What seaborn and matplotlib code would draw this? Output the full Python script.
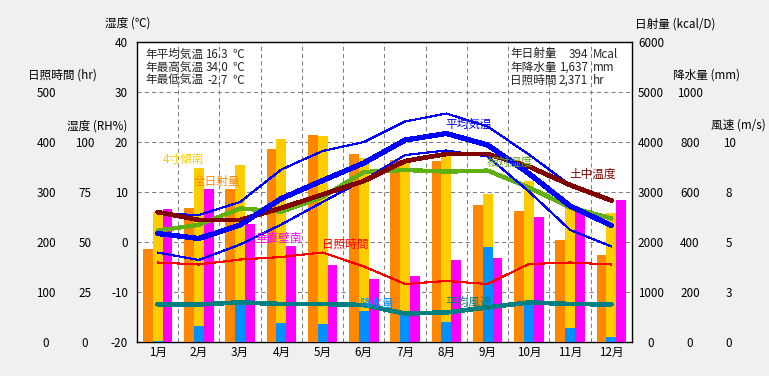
import numpy as np
import matplotlib
matplotlib.use("Agg")
import matplotlib.pyplot as plt
import seaborn as sns

# ---------------------------------------------------------------------------
# data
# ---------------------------------------------------------------------------
months = ["1月", "2月", "3月", "4月", "5月", "6月", "7月", "8月", "9月", "10月", "11月", "12月"]

rad_total = [1860, 2680, 3060, 3860, 4140, 3760, 3640, 3620, 2740, 2620, 2040, 1740]   # 全日射量 kcal/D
rad_tilt = [2600, 3480, 3540, 4060, 4120, 3680, 3580, 3740, 2960, 3220, 2680, 2580]    # 4寸傾南
rad_wall = [2660, 3060, 2360, 1920, 1540, 1260, 1320, 1640, 1680, 2500, 2600, 2840]    # 垂直壁南
rain = [4, 64, 160, 76, 72, 124, 120, 80, 380, 164, 56, 20]                            # 降水量 mm
sunshine = [159, 155, 165, 170, 179, 151, 116, 122, 116, 156, 159, 155]                # 日照時間 hr
temp_mean = [1.7, 0.7, 3.4, 8.7, 12.3, 15.8, 20.4, 21.7, 19.4, 13.7, 7.2, 3.3]
temp_max = [5.7, 5.4, 8.0, 14.5, 18.2, 20.0, 24.1, 25.7, 23.1, 17.5, 11.4, 8.1]
temp_min = [-2.1, -3.6, -0.5, 3.5, 8.0, 12.4, 17.4, 18.3, 17.1, 10.1, 2.4, -0.9]
soil_temp = [6.0, 4.4, 4.4, 6.8, 9.5, 12.2, 16.2, 17.6, 17.6, 15.1, 11.4, 8.3]
humidity = [55.7, 58.6, 66.8, 65.2, 72.5, 85.0, 86.0, 85.2, 85.7, 77.3, 67.3, 61.8]
wind = [1.88, 1.88, 1.98, 1.9, 1.9, 1.85, 1.42, 1.48, 1.73, 1.98, 1.9, 1.88]

temp_ticks = [-20, -10, 0, 10, 20, 30, 40]
sun_ticks = [0, 100, 200, 300, 400, 500]
rh_ticks = [0, 25, 50, 75, 100]
rad_ticks = [0, 1000, 2000, 3000, 4000, 5000, 6000]
rain_ticks = [0, 200, 400, 600, 800, 1000]
wind_ticks = [0, 2.5, 5, 7.5, 10]
wind_tick_labels = ["0", "3", "5", "8", "10"]

stat_names_l = ["年平均気温", "年最高気温", "年最低気温"]
stat_vals_l = ["16.3", "34.0", "-2.7"]
stat_units_l = ["℃", "℃", "℃"]
stat_names_r = ["年日射量", "年降水量", "日照時間"]
stat_vals_r = ["394", "1,637", "2,371"]
stat_units_r = ["Mcal", "mm", "hr"]

# colours
C_ORANGE = "#ff8800"
C_YELLOW = "#ffcc00"
C_MAGENTA = "#ff00ff"
C_RAIN = "#0090ff"
C_RED = "#ff0000"
C_BLUE = "#0000ff"
C_MAROON = "#800000"
C_GREEN = "#5fb010"
C_TEAL = "#008080"

sns.set_theme(style="white")
plt.rcParams["font.family"] = ["Noto Sans CJK JP", "DejaVu Sans"]
FS = 8.4

W, H = 769, 376
L, R, T, B = 137, 632, 42, 342


def px(x, y):
    return x / W, 1 - y / H


def column(ax, pos_px, side, lim, ticks, labels):
    # one extra scale drawn as a free-standing column of numbers
    frac = (pos_px - L) / (R - L)
    ax.yaxis.set_ticks_position(side)
    ax.spines[side].set_position(("axes", frac))
    for s in ax.spines.values():
        s.set_visible(False)
    ax.tick_params(axis="y", length=0, pad=0, labelsize=FS, colors="black")
    ax.set_ylim(*lim)
    ax.set_yticks(ticks)
    ax.set_yticklabels(labels, ha="center")


fig = plt.figure(figsize=(W / 100, H / 100), dpi=100, facecolor="#f0f0f0")
ax = fig.add_axes([L / W, 1 - B / H, (R - L) / W, (B - T) / H])
ax.set_facecolor("white")
x = np.arange(len(months))
ax.set_xlim(-0.5, len(months) - 0.5)
ax.tick_params(axis="both", which="both", length=0, labelsize=FS, colors="black")
ax.tick_params(axis="y", pad=6.5)
ax.tick_params(axis="x", pad=3)
ax.set_ylim(-20, 40)
ax.set_yticks(temp_ticks)
ax.set_yticklabels([str(t) for t in temp_ticks])
ax.set_xticks(x)
ax.set_xticklabels(months)
ax.set_xticks(x[:-1] + 0.5, minor=True)
ax.grid(False)
ax.grid(True, which="minor", axis="x", color="#808080", lw=0.75, ls=(0, (4, 3)))
ax.grid(True, which="major", axis="y", color="#808080", lw=0.75, ls=(0, (4, 3)))
for s in ax.spines.values():
    s.set_visible(True)
    s.set_color("black")
    s.set_linewidth(1)

# radiation bars
ax_rad = ax.twinx()
column(ax_rad, 651, "right", (0, 6000), rad_ticks, [str(t) for t in rad_ticks])
w = 0.24
ax_rad.bar(x - w, rad_total, width=w, color=C_ORANGE, linewidth=0)
ax_rad.bar(x, rad_tilt, width=w, color=C_YELLOW, linewidth=0)
ax_rad.bar(x + w, rad_wall, width=w, color=C_MAGENTA, linewidth=0)

# precipitation
ax_rain = ax.twinx()
column(ax_rain, 690, "right", (0, 1200), rain_ticks, [str(t) for t in rain_ticks])
ax_rain.bar(x, rain, width=w, color=C_RAIN, linewidth=0)

# sunshine hours
ax_sun = ax.twinx()
column(ax_sun, 46, "left", (0, 600), sun_ticks, [str(t) for t in sun_ticks])
sns.lineplot(x=x, y=sunshine, ax=ax_sun, color=C_RED, lw=0.8, antialiased=False)

# wind
ax_wind = ax.twinx()
column(ax_wind, 729, "right", (0, 15), wind_ticks, wind_tick_labels)
sns.lineplot(x=x, y=wind, ax=ax_wind, color=C_TEAL, lw=2.6, antialiased=False)

# relative humidity
ax_rh = ax.twinx()
column(ax_rh, 85, "left", (0, 150), rh_ticks, [str(t) for t in rh_ticks])
sns.lineplot(x=x, y=humidity, ax=ax_rh, color=C_GREEN, lw=2.4, antialiased=False)

# temperatures on top
ax_t = ax.twinx()
ax_t.set_ylim(-20, 40)
ax_t.set_yticks([])
for s in ax_t.spines.values():
    s.set_visible(False)
sns.lineplot(x=x, y=temp_max, ax=ax_t, color=C_BLUE, lw=0.8, antialiased=False)
sns.lineplot(x=x, y=temp_min, ax=ax_t, color=C_BLUE, lw=0.8, antialiased=False)
sns.lineplot(x=x, y=soil_temp, ax=ax_t, color=C_MAROON, lw=2.6, antialiased=False)
sns.lineplot(x=x, y=temp_mean, ax=ax_t, color=C_BLUE, lw=3.0, antialiased=False)

for a in [ax, ax_rad, ax_rain, ax_sun, ax_wind, ax_rh, ax_t]:
    a.set_xlabel("")
    a.set_ylabel("")
    a.set_xlim(-0.5, len(months) - 0.5)

# axis titles
titles = [("湿度 (℃)", 105, 23.5), ("日照時間 (hr)", 28, 75), ("湿度 (RH%)", 67, 126),
          ("日射量 (kcal/D)", 635, 24), ("降水量 (mm)", 673, 75), ("風速 (m/s)", 711, 125)]
for txt, tx, ty in titles:
    fig.text(*px(tx, ty), txt, fontsize=FS, ha="left", va="center", color="black")

# annual statistics
for i in range(3):
    yy = 54 + i * 13.2
    fig.text(*px(145, yy), stat_names_l[i], fontsize=FS, ha="left", va="center")
    fig.text(*px(228, yy), stat_vals_l[i], fontsize=FS, ha="right", va="center")
    fig.text(*px(232, yy), stat_units_l[i], fontsize=FS, ha="left", va="center")
    fig.text(*px(510, yy), stat_names_r[i], fontsize=FS, ha="left", va="center")
    fig.text(*px(588, yy), stat_vals_r[i], fontsize=FS, ha="right", va="center")
    fig.text(*px(593, yy), stat_units_r[i], fontsize=FS, ha="left", va="center")

# series labels
labels = [("4寸傾南", 183, 159, C_YELLOW), ("全日射量", 217, 181, C_ORANGE),
          ("垂直壁南", 279, 238, C_MAGENTA), ("日照時間", 345, 244, C_RED),
          ("平均気温", 469, 124, C_BLUE), ("相対湿度", 510, 162, C_GREEN),
          ("土中温度", 593, 174, C_MAROON), ("降水量", 376, 303, C_RAIN),
          ("平均風速", 469, 302, C_TEAL)]
for txt, tx, ty, c in labels:
    fig.text(*px(tx, ty), txt, fontsize=FS, ha="center", va="center", color=c, zorder=10)

fig.savefig("out.png", dpi=100, facecolor=fig.get_facecolor())
